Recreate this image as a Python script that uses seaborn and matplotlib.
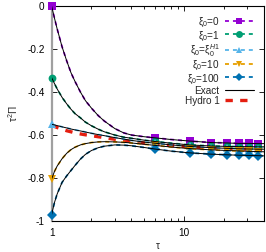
import numpy as np
import pandas as pd
import matplotlib
matplotlib.use("Agg")
import matplotlib.pyplot as plt
from matplotlib.lines import Line2D
from matplotlib.ticker import FixedLocator, NullFormatter
import seaborn as sns

# ---- data ----
tau = [1, 1.05, 1.1, 1.2, 1.3, 1.4, 1.5, 1.65, 1.8, 2, 2.25, 2.5, 3, 3.5, 4,
       5, 6, 8, 11, 16, 21, 26, 31, 36, 40]
xi_0 = [0, -0.055, -0.105, -0.19, -0.255, -0.31, -0.35, -0.40, -0.44, -0.475,
        -0.51, -0.535, -0.57, -0.59, -0.60, -0.608, -0.613, -0.621, -0.628,
        -0.635, -0.637, -0.639, -0.639, -0.64, -0.64]
xi_1 = [-0.333, -0.36, -0.385, -0.425, -0.455, -0.48, -0.50, -0.52, -0.54,
        -0.557, -0.573, -0.585, -0.60, -0.61, -0.615, -0.624, -0.63, -0.638,
        -0.646, -0.651, -0.653, -0.654, -0.654, -0.655, -0.655]
xi_h1 = [-0.55, -0.553, -0.556, -0.562, -0.567, -0.572, -0.576, -0.581,
         -0.586, -0.592, -0.598, -0.603, -0.612, -0.619, -0.625, -0.633,
         -0.638, -0.646, -0.653, -0.659, -0.662, -0.664, -0.665, -0.666, -0.666]
xi_10 = [-0.805, -0.77, -0.745, -0.71, -0.685, -0.668, -0.657, -0.646, -0.64,
         -0.635, -0.632, -0.631, -0.632, -0.634, -0.637, -0.643, -0.648,
         -0.656, -0.663, -0.669, -0.672, -0.674, -0.676, -0.677, -0.678]
xi_100 = [-0.97, -0.915, -0.875, -0.82, -0.79, -0.765, -0.742, -0.712, -0.69,
          -0.672, -0.659, -0.652, -0.646, -0.647, -0.65, -0.658, -0.665,
          -0.675, -0.683, -0.689, -0.692, -0.694, -0.695, -0.696, -0.697]
hydro1 = [-0.555, -0.56, -0.565, -0.573, -0.58, -0.585, -0.59, -0.595, -0.599,
          -0.603, -0.608, -0.612, -0.62, -0.626, -0.63, -0.637, -0.642,
          -0.649, -0.655, -0.66, -0.663, -0.665, -0.666, -0.667, -0.667]
marker_tau = [1, 6, 11, 16, 21, 26, 31, 36]

labels = ["ξ$_0$=0", "ξ$_0$=1", "ξ$_0$=ξ$_0^{H1}$", "ξ$_0$=10", "ξ$_0$=100"]
series = [xi_0, xi_1, xi_h1, xi_10, xi_100]
colors = ["#9400D3", "#009E73", "#56B4E9", "#E69F00", "#0072B2"]
markers = ["s", "o", "^", "v", "D"]
msizes = [5.4, 5.6, 5.6, 5.6, 4.6]
yticks = [0, -0.2, -0.4, -0.6, -0.8, -1]
ytick_labels = ["0", "-0.2", "-0.4", "-0.6", "-0.8", "-1"]
xticks = [1, 10]
xtick_labels = ["1", "10"]

sns.set_theme(style="ticks")
plt.rcParams["font.family"] = ["Liberation Sans", "DejaVu Sans"]
plt.rcParams["mathtext.fontset"] = "custom"
plt.rcParams["mathtext.rm"] = "Liberation Sans"
plt.rcParams["mathtext.it"] = "Liberation Sans:italic"
fs = 7.2

fig = plt.figure(figsize=(2.66, 2.52), dpi=100)
ax = fig.add_axes([0.194, 0.123, 0.798, 0.853])

mark_idx = [tau.index(t) for t in marker_tau]
handles = []
for y, c, m, ms, lab in zip(series, colors, markers, msizes, labels):
    df = pd.DataFrame({"tau": tau, "v": y})
    sns.lineplot(data=df, x="tau", y="v", ax=ax, color=c, lw=1.3,
                 linestyle=(0, (2.2, 2.2)), marker=m, markersize=ms,
                 markevery=mark_idx, markeredgewidth=0, clip_on=False,
                 zorder=3)
    handles.append(Line2D([], [], color=c, lw=1.3, linestyle=(0, (2.2, 2.2)),
                          marker=m, markersize=ms - 0.6, markeredgewidth=0,
                          label=lab))
dfh = pd.DataFrame({"tau": tau, "v": hydro1})
sns.lineplot(data=dfh, x="tau", y="v", ax=ax, color="#E51E10", lw=2.4,
             linestyle=(0, (2.2, 2.2)), zorder=2)
for y in series:
    df = pd.DataFrame({"tau": tau, "v": y})
    sns.lineplot(data=df, x="tau", y="v", ax=ax, color="black", lw=0.7,
                 zorder=4)
handles.append(Line2D([], [], color="black", lw=0.8, label="Exact"))
handles.append(Line2D([], [], color="#E51E10", lw=2.4,
                      linestyle=(0, (2.2, 2.2)), label="Hydro 1"))

ax.set_xscale("log")
ax.set_xlim(1, 40)
ax.set_ylim(-1, 0)
ax.xaxis.set_major_locator(FixedLocator(xticks))
ax.set_xticklabels(xtick_labels)
ax.xaxis.set_minor_locator(FixedLocator([2, 3, 4, 5, 6, 7, 8, 9, 20, 30, 40]))
ax.xaxis.set_minor_formatter(NullFormatter())
ax.set_yticks(yticks)
ax.set_yticklabels(ytick_labels)
ax.tick_params(which="both", direction="in", top=True, right=True,
               labelsize=fs, colors="black", width=0.6, pad=5)
ax.tick_params(which="major", length=3.5)
ax.tick_params(which="minor", length=2)
for s in ["top", "right", "bottom"]:
    ax.spines[s].set_color("black")
    ax.spines[s].set_linewidth(0.8)
ax.spines["left"].set_color("#a0a0a0")
ax.spines["left"].set_linewidth(1.6)
ax.set_xlabel("τ", fontsize=fs, labelpad=2)
ax.set_ylabel("τ$^2$Π", fontsize=fs, labelpad=5)

leg = ax.legend(handles=handles, loc="upper right", markerfirst=False,
                frameon=False, fontsize=fs, handlelength=2.9,
                handleheight=1.15, handletextpad=0.5, labelspacing=0.0,
                borderaxespad=0.3, bbox_to_anchor=(0.985, 0.985))

fig.savefig("out.png", dpi=100)
